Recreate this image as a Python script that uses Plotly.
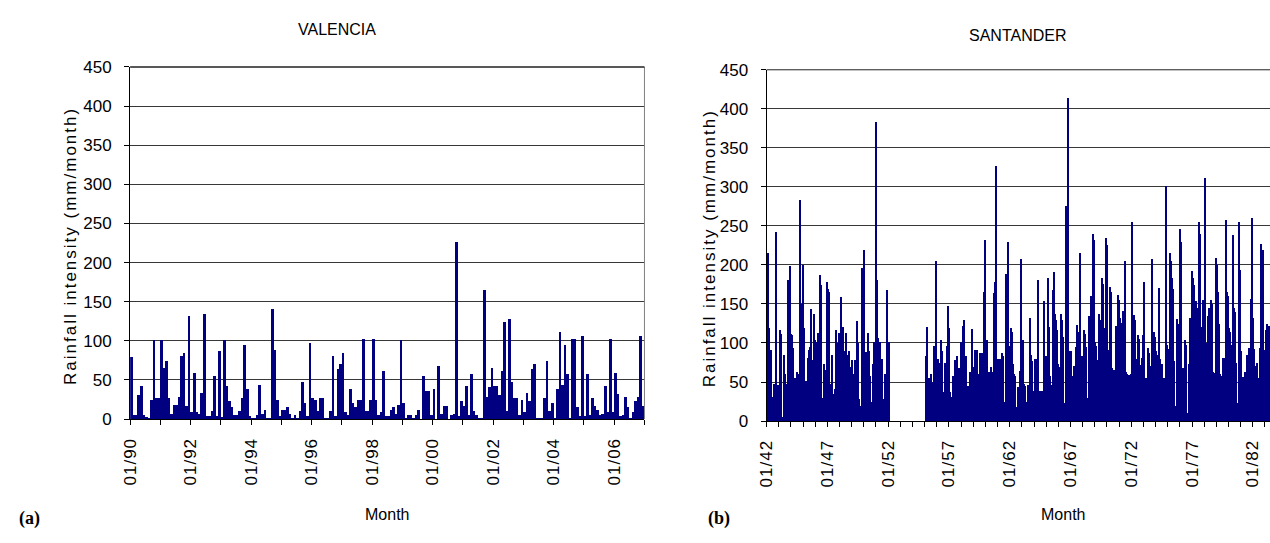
import datetime as dt
import plotly.graph_objects as go

# ---------------- data ----------------
valencia_start = "1990-01"
valencia_rain = [
    79, 5, 5, 31, 42, 5, 3, 2, 24, 101,
    27, 27, 101, 65, 74, 27, 7, 18, 18, 28,
    81, 85, 17, 132, 9, 59, 9, 7, 34, 134,
    4, 4, 11, 55, 4, 87, 3, 101, 42, 23,
    15, 5, 5, 11, 27, 95, 38, 4, 2, 2,
    5, 44, 7, 12, 1, 1, 141, 89, 24, 4,
    12, 12, 15, 7, 1, 5, 1, 11, 47, 21,
    4, 97, 27, 25, 11, 27, 27, 1, 2, 11,
    81, 4, 64, 70, 85, 9, 5, 38, 21, 15,
    24, 24, 102, 11, 11, 25, 102, 24, 5, 9,
    61, 4, 4, 12, 15, 7, 18, 101, 21, 1,
    5, 5, 1, 5, 12, 0, 55, 36, 36, 5,
    38, 0, 68, 7, 17, 17, 0, 5, 7, 227,
    4, 23, 17, 42, 5, 58, 11, 5, 1, 2,
    165, 28, 41, 65, 42, 42, 31, 61, 124, 11,
    128, 47, 27, 27, 5, 25, 9, 34, 23, 64,
    70, 2, 1, 2, 27, 75, 11, 21, 1, 38,
    112, 44, 95, 58, 1, 102, 102, 15, 4, 106,
    4, 58, 5, 27, 17, 12, 5, 7, 42, 9,
    102, 9, 59, 32, 4, 5, 28, 15, 1, 9,
    23, 28, 106, 17,
]
valencia_ticks = ["01/90", "01/92", "01/94", "01/96", "01/98",
                  "01/00", "01/02", "01/04", "01/06"]

santander_start = "1942-01"
santander_rain = [
    # 1942-01 .. 1952-01
    216, 120, 117, 91, 88, 31, 48, 45, 242, 46,
    47, 44, 117, 112, 3, 5, 85, 60, 33, 48,
    181, 140, 199, 112, 111, 94, 39, 56, 50, 63,
    60, 39, 283, 150, 137, 200, 120, 6, 51, 52,
    81, 91, 95, 144, 78, 70, 138, 104, 102, 100,
    113, 110, 187, 175, 25, 30, 74, 66, 56, 178,
    170, 165, 48, 40, 85, 35, 30, 41, 117, 100,
    76, 113, 105, 159, 19, 121, 90, 34, 113, 85,
    90, 70, 37, 78, 60, 21, 78, 75, 128, 100,
    29, 20, 16, 196, 180, 219, 56, 89, 80, 113,
    90, 58, 21, 25, 74, 101, 101, 384, 181, 107,
    101, 101, 59, 80, 29, 27, 60, 30, 168, 101,
    101,
    # 1952-02 .. 1954-12 (no record)
    0, 0, 0, 0, 0, 0, 0, 0, 0, 0, 0,
    0, 0, 0, 0, 0, 0, 0, 0, 0, 0, 0, 0,
    0, 0, 0, 0, 0, 0, 0, 0, 0, 0, 0, 0,
    # 1955-01 ..
    84, 80, 121, 56, 52, 60, 50, 27, 97, 90,
    205, 71, 80, 75, 2, 104, 90, 37, 37, 75,
    70, 97, 148, 120, 37, 31, 30, 58,
    58, 78, 74, 83, 33, 68, 64, 101, 96, 122,
    130, 47, 84, 45, 42, 45, 63, 60, 118, 70,
    66, 91, 88, 91, 60, 56, 87, 84, 87, 2,
    165, 232, 75, 104, 63, 60, 63, 70, 63, 60,
    164, 179, 327, 7, 80, 77, 80, 31, 87, 84,
    25, 189, 180, 230, 97, 92, 120, 115, 74, 61,
    58, 16, 18, 44, 40, 64, 208, 60, 104, 48,
    45, 23, 25, 47, 44, 132, 85, 77, 39, 36,
    80, 78, 80, 181, 19, 39, 16, 39, 36, 154,
    84, 80, 84, 183, 121, 58, 46, 44, 168, 191,
    137, 130, 117, 74, 70, 25, 137, 130, 108, 23,
    20, 276, 270, 414,
    90, 86, 90, 58, 55, 71, 68, 95, 123, 115,
    110, 215, 84, 80, 117, 112, 95, 28, 30, 135,
    128, 161, 80, 240, 232, 101, 96, 79, 75, 137,
    130, 41, 184, 176, 119, 113, 235, 226, 91, 87,
    172, 165, 68, 66, 63, 66, 122, 64, 162, 155,
    132, 126, 99, 141, 135, 205, 63, 60, 47, 59,
    56, 61, 255, 135, 136, 130, 80, 77, 111, 106,
    72, 70,
    81, 111, 179, 56, 56, 50, 94, 88, 71, 65,
    208, 31, 115, 108, 90, 85, 80, 171, 80, 74,
    56, 52, 56, 302, 98, 92, 78, 216, 205, 183,
    170, 77, 13, 20, 131, 125, 113, 246, 230, 68,
    68, 62, 104, 98, 6, 10, 74, 132, 120, 193,
    184, 175, 75, 154, 145, 76, 255, 240, 121, 51,
    155, 100, 312, 100, 95, 135, 145, 140, 155, 150,
    63, 62, 61, 209, 200, 165, 124, 61, 58,
    31, 81, 81, 78, 258, 166, 160, 120, 115,
    98, 95, 239, 145, 140, 75, 23, 255, 194, 90,
    56, 57, 55, 63, 34, 85, 79, 94, 90,
    156, 260, 132, 92, 71, 70, 75, 56, 54, 94,
    227, 137, 220, 91, 88, 117, 124, 120, 122, 118,
]
santander_ticks = ["01/42", "01/47", "01/52", "01/57", "01/62",
                   "01/67", "01/72", "01/77", "01/82"]

y_ticks = [0, 50, 100, 150, 200, 250, 300, 350, 400, 450]


# ---------------- helpers ----------------
def months(start, n):
    y, m = map(int, start.split("-"))
    out = []
    for _ in range(n):
        out.append(dt.date(y, m, 1))
        m += 1
        if m > 12:
            m, y = 1, y + 1
    return out


def label_date(lbl):
    mm, yy = lbl.split("/")
    yy = int(yy)
    year = 1900 + yy if yy >= 30 else 2000 + yy
    return dt.date(year, int(mm), 1)


W, H = 1270, 543
FONT = "Liberation Sans, Arial, sans-serif"
BAR = "#000080"
GRID = "#383838"
MONTH_MS = 31 * 86400000
TICK_SIZE = 17
XSP = '<span style="letter-spacing:1px">%s</span>'

v_x = months(valencia_start, len(valencia_rain))
s_x = months(santander_start, len(santander_rain))

fig = go.Figure()
fig.add_trace(go.Bar(x=v_x, y=valencia_rain, xaxis="x", yaxis="y",
                     marker=dict(color=BAR, line=dict(width=0)),
                     width=MONTH_MS, offset=0, hoverinfo="x+y"))
fig.add_trace(go.Bar(x=s_x, y=santander_rain, xaxis="x2", yaxis="y2",
                     marker=dict(color=BAR, line=dict(width=0)),
                     width=MONTH_MS, offset=0, hoverinfo="x+y"))


def xax(domain, rng, ticks, tick0):
    return dict(
        type="date", domain=domain, range=rng,
        tickmode="array", tickvals=[label_date(t) for t in ticks],
        ticktext=[XSP % t for t in ticks],
        tickangle=-90, ticks="outside", ticklen=5, tickcolor="black", tickwidth=1,
        ticklabelstandoff=6,
        minor=dict(ticks="outside", ticklen=5, tickcolor="black", tickwidth=1,
                   dtick="M12", tick0=tick0, showgrid=False),
        showline=True, linecolor="black", linewidth=1,
        showgrid=False, zeroline=False,
        tickfont=dict(family=FONT, size=TICK_SIZE, color="black"),
        fixedrange=True,
    )


def yax(domain, anchor):
    return dict(
        domain=domain, anchor=anchor, range=[0, 450],
        tickmode="array", tickvals=y_ticks,
        ticks="outside", ticklen=5, tickcolor="black", tickwidth=1,
        ticklabelstandoff=9,
        showline=True, linecolor="black", linewidth=1,
        showgrid=True, gridcolor=GRID, gridwidth=1, zeroline=False,
        tickfont=dict(family=FONT, size=TICK_SIZE, color="black"),
        fixedrange=True,
    )


vx_dom = [122 / W, 640 / W]
vy_dom = [1 - 425 / H, 1 - 60 / H]
sx_dom = [763 / W, 1.0]
sy_dom = [1 - 427 / H, 1 - 63 / H]

fig.update_layout(
    width=W, height=H, margin=dict(l=0, r=0, t=0, b=0),
    paper_bgcolor="white", plot_bgcolor="white",
    showlegend=False, bargap=0,
    xaxis=dict(xax(vx_dom, [dt.date(1990, 1, 1), dt.date(2007, 1, 1)],
                   valencia_ticks, "1990-01-01"), anchor="y"),
    yaxis=yax(vy_dom, "x"),
    xaxis2=dict(xax(sx_dom, [dt.date(1942, 1, 1), dt.date(1983, 6, 1)],
                    santander_ticks, "1942-01-01"), anchor="y2"),
    yaxis2=yax(sy_dom, "x2"),
    font=dict(family=FONT, color="black"),
)

# plot-area frame lines (top edge of both panels, right edge of Valencia)
fig.add_shape(type="line", xref="x domain", yref="y domain",
              x0=1, x1=1, y0=0, y1=1, line=dict(color="#808080", width=1))
fig.add_shape(type="line", xref="x domain", yref="y domain",
              x0=0, x1=1, y0=1, y1=1, line=dict(color="#202020", width=1.5))
fig.add_shape(type="line", xref="x2 domain", yref="y2 domain",
              x0=0, x1=1, y0=1, y1=1, line=dict(color="#202020", width=1))

SP = '<span style="letter-spacing:2px">%s</span>'
ann = [
    dict(text="VALENCIA", x=330 / W, y=1 - 21 / H, size=16, angle=0),
    dict(text="SANTANDER", x=1016 / W, y=1 - 27 / H, size=16, angle=0),
    dict(text=SP % "Rainfall intensity (mm/month)", x=62 / W, y=1 - 246 / H, size=17, angle=-90),
    dict(text=SP % "Rainfall intensity (mm/month)", x=705 / W, y=1 - 248 / H, size=17, angle=-90),
    dict(text="Month", x=381 / W, y=1 - 524 / H, size=16, angle=0),
    dict(text="Month", x=1062 / W, y=1 - 524 / H, size=16, angle=0),
]
for a in ann:
    fig.add_annotation(text=a["text"], x=a["x"], y=a["y"], xref="paper", yref="paper",
                       xanchor="center", yanchor="middle", showarrow=False,
                       textangle=a["angle"],
                       font=dict(family=FONT, size=a["size"], color="black"))

for txt, xp in [("(a)", 21), ("(b)", 715)]:
    fig.add_annotation(text="<b>%s</b>" % txt, x=xp / W, y=1 - 528 / H,
                       xref="paper", yref="paper", xanchor="center", yanchor="middle",
                       showarrow=False,
                       font=dict(family="Liberation Serif, Times New Roman, serif",
                                 size=18, color="black"))

fig.write_html("out.html", config={"displayModeBar": False})
